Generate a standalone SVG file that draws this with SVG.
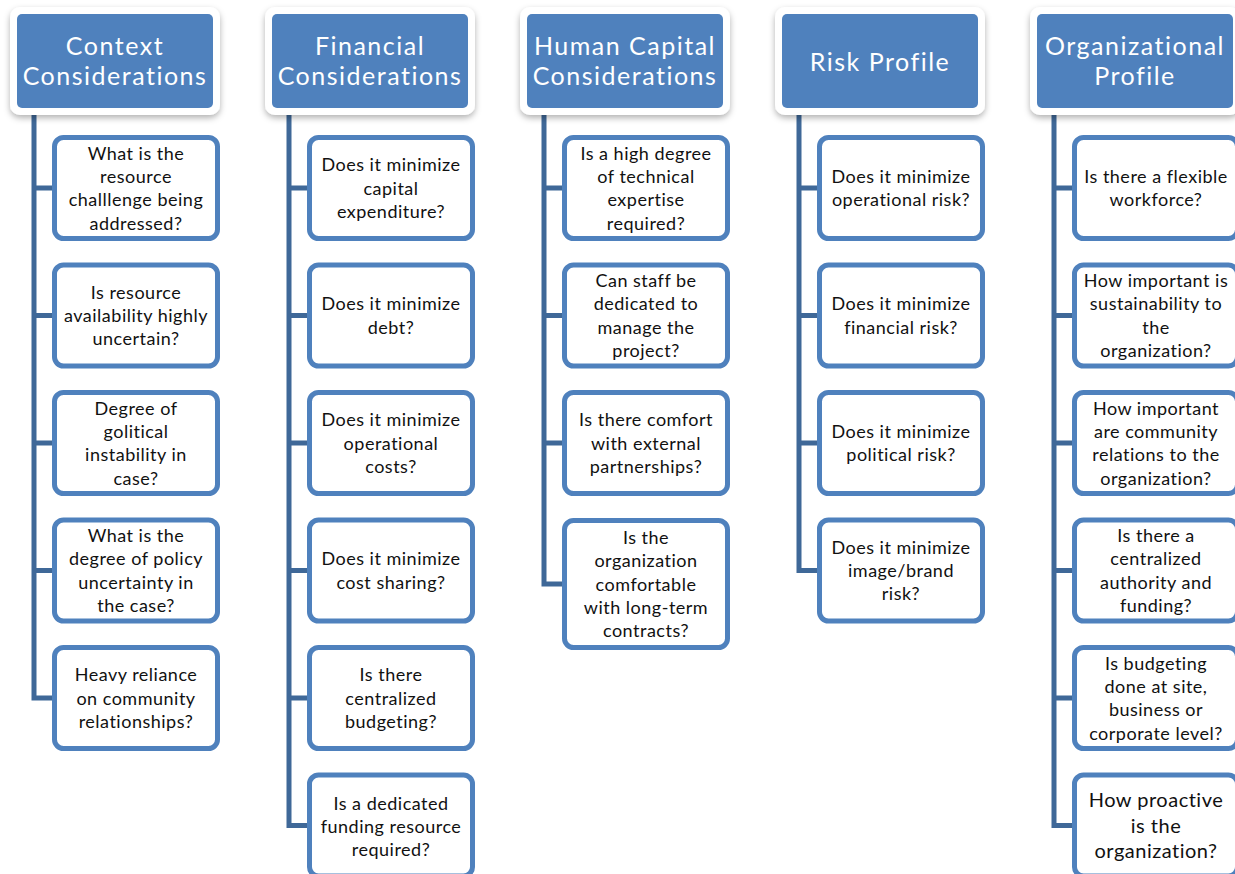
<svg xmlns="http://www.w3.org/2000/svg" width="1235" height="874" viewBox="0 0 1235 874">
<defs>
<filter id="sh" x="-10%" y="-10%" width="120%" height="130%">
<feDropShadow dx="0" dy="3" stdDeviation="3" flood-color="#000" flood-opacity="0.3"/>
</filter>
<style>
.hw{fill:#ffffff;filter:url(#sh);}
.hb{fill:#4F81BD;}
.ht{font-family:Lato,"Liberation Sans",sans-serif;font-size:25px;fill:#ffffff;text-anchor:middle;letter-spacing:1.5px;}
.cb{fill:#ffffff;stroke:#4F81BD;stroke-width:5;}
.ct{font-family:Lato,"Liberation Sans",sans-serif;font-size:18px;fill:#111111;text-anchor:middle;letter-spacing:0.5px;}
.big{font-size:20px;}
.cn{fill:none;stroke:#3F6898;stroke-width:5;}
</style>
</defs>
<rect width="1235" height="874" fill="#ffffff"/>

<g id="connectors">
<path class="cn" d="M34 108V700.5M34 188H55M34 315.5H55M34 443H55M34 570.5H55M34 698H55"/>
<path class="cn" d="M289 108V828M289 188H310M289 315.5H310M289 443H310M289 570.5H310M289 698H310M289 825.5H310"/>
<path class="cn" d="M544 108V586.5M544 188H565M544 315.5H565M544 443H565M544 584H565"/>
<path class="cn" d="M799 108V573M799 188H820M799 315.5H820M799 443H820M799 570.5H820"/>
<path class="cn" d="M1054 108V828M1054 188H1075M1054 315.5H1075M1054 443H1075M1054 570.5H1075M1054 698H1075M1054 825.5H1075"/>
</g>

<g id="h1"><rect class="hw" x="10" y="7" width="210" height="108" rx="10"/><rect class="hb" x="17" y="14" width="196" height="94" rx="5"/>
<text class="ht" x="115" y="55">Context</text><text class="ht" x="115" y="85">Considerations</text></g>
<g id="h2"><rect class="hw" x="265" y="7" width="210" height="108" rx="10"/><rect class="hb" x="272" y="14" width="196" height="94" rx="5"/>
<text class="ht" x="370" y="55">Financial</text><text class="ht" x="370" y="85">Considerations</text></g>
<g id="h3"><rect class="hw" x="520" y="7" width="210" height="108" rx="10"/><rect class="hb" x="527" y="14" width="196" height="94" rx="5"/>
<text class="ht" x="625" y="55">Human Capital</text><text class="ht" x="625" y="85">Considerations</text></g>
<g id="h4"><rect class="hw" x="775" y="7" width="210" height="108" rx="10"/><rect class="hb" x="782" y="14" width="196" height="94" rx="5"/>
<text class="ht" x="880" y="70.5">Risk Profile</text></g>
<g id="h5"><rect class="hw" x="1030" y="7" width="210" height="108" rx="10"/><rect class="hb" x="1037" y="14" width="196" height="94" rx="5"/>
<text class="ht" x="1135" y="55">Organizational</text><text class="ht" x="1135" y="85">Profile</text></g>

<g id="c1-1"><rect class="cb" x="54.5" y="137.5" width="163" height="101" rx="9"/>
<text class="ct" x="136" y="159.5">What is the</text><text class="ct" x="136" y="182.8">resource</text><text class="ct" x="136" y="206.2">challlenge being</text><text class="ct" x="136" y="229.5">addressed?</text></g>
<g id="c1-2"><rect class="cb" x="54.5" y="265" width="163" height="101" rx="9"/>
<text class="ct" x="136" y="298.7">Is resource</text><text class="ct" x="136" y="322">availability highly</text><text class="ct" x="136" y="345.3">uncertain?</text></g>
<g id="c1-3"><rect class="cb" x="54.5" y="392.5" width="163" height="101" rx="9"/>
<text class="ct" x="136" y="414.5">Degree of</text><text class="ct" x="136" y="437.8">golitical</text><text class="ct" x="136" y="461.2">instability in</text><text class="ct" x="136" y="484.5">case?</text></g>
<g id="c1-4"><rect class="cb" x="54.5" y="520" width="163" height="101" rx="9"/>
<text class="ct" x="136" y="542">What is the</text><text class="ct" x="136" y="565.3">degree of policy</text><text class="ct" x="136" y="588.7">uncertainty in</text><text class="ct" x="136" y="612">the case?</text></g>
<g id="c1-5"><rect class="cb" x="54.5" y="647.5" width="163" height="101" rx="9"/>
<text class="ct" x="136" y="681.2">Heavy reliance</text><text class="ct" x="136" y="704.5">on community</text><text class="ct" x="136" y="727.8">relationships?</text></g>

<g id="c2-1"><rect class="cb" x="309.5" y="137.5" width="163" height="101" rx="9"/>
<text class="ct" x="391" y="171.2">Does it minimize</text><text class="ct" x="391" y="194.5">capital</text><text class="ct" x="391" y="217.8">expenditure?</text></g>
<g id="c2-2"><rect class="cb" x="309.5" y="265" width="163" height="101" rx="9"/>
<text class="ct" x="391" y="310.4">Does it minimize</text><text class="ct" x="391" y="333.7">debt?</text></g>
<g id="c2-3"><rect class="cb" x="309.5" y="392.5" width="163" height="101" rx="9"/>
<text class="ct" x="391" y="426.2">Does it minimize</text><text class="ct" x="391" y="449.5">operational</text><text class="ct" x="391" y="472.8">costs?</text></g>
<g id="c2-4"><rect class="cb" x="309.5" y="520" width="163" height="101" rx="9"/>
<text class="ct" x="391" y="565.4">Does it minimize</text><text class="ct" x="391" y="588.7">cost sharing?</text></g>
<g id="c2-5"><rect class="cb" x="309.5" y="647.5" width="163" height="101" rx="9"/>
<text class="ct" x="391" y="681.2">Is there</text><text class="ct" x="391" y="704.5">centralized</text><text class="ct" x="391" y="727.8">budgeting?</text></g>
<g id="c2-6"><rect class="cb" x="309.5" y="775" width="163" height="101" rx="9"/>
<text class="ct" x="391" y="809.5">Is a dedicated</text><text class="ct" x="391" y="832.8">funding resource</text><text class="ct" x="391" y="856">required?</text></g>

<g id="c3-1"><rect class="cb" x="564.5" y="137.5" width="163" height="101" rx="9"/>
<text class="ct" x="646" y="159.5">Is a high degree</text><text class="ct" x="646" y="182.8">of technical</text><text class="ct" x="646" y="206.2">expertise</text><text class="ct" x="646" y="229.5">required?</text></g>
<g id="c3-2"><rect class="cb" x="564.5" y="265" width="163" height="101" rx="9"/>
<text class="ct" x="646" y="287">Can staff be</text><text class="ct" x="646" y="310.3">dedicated to</text><text class="ct" x="646" y="333.7">manage the</text><text class="ct" x="646" y="357">project?</text></g>
<g id="c3-3"><rect class="cb" x="564.5" y="392.5" width="163" height="101" rx="9"/>
<text class="ct" x="646" y="426.2">Is there comfort</text><text class="ct" x="646" y="449.5">with external</text><text class="ct" x="646" y="472.8">partnerships?</text></g>
<g id="c3-4"><rect class="cb" x="564.5" y="520.5" width="163" height="127" rx="9"/>
<text class="ct" x="646" y="543.9">Is the</text><text class="ct" x="646" y="567.2">organization</text><text class="ct" x="646" y="590.5">comfortable</text><text class="ct" x="646" y="613.8">with long-term</text><text class="ct" x="646" y="637.1">contracts?</text></g>

<g id="c4-1"><rect class="cb" x="819.5" y="137.5" width="163" height="101" rx="9"/>
<text class="ct" x="901" y="182.9">Does it minimize</text><text class="ct" x="901" y="206.2">operational risk?</text></g>
<g id="c4-2"><rect class="cb" x="819.5" y="265" width="163" height="101" rx="9"/>
<text class="ct" x="901" y="310.4">Does it minimize</text><text class="ct" x="901" y="333.7">financial risk?</text></g>
<g id="c4-3"><rect class="cb" x="819.5" y="392.5" width="163" height="101" rx="9"/>
<text class="ct" x="901" y="437.9">Does it minimize</text><text class="ct" x="901" y="461.2">political risk?</text></g>
<g id="c4-4"><rect class="cb" x="819.5" y="520" width="163" height="101" rx="9"/>
<text class="ct" x="901" y="553.7">Does it minimize</text><text class="ct" x="901" y="577">image/brand</text><text class="ct" x="901" y="600.3">risk?</text></g>

<g id="c5-1"><rect class="cb" x="1074.5" y="137.5" width="163" height="101" rx="9"/>
<text class="ct" x="1156" y="182.9">Is there a flexible</text><text class="ct" x="1156" y="206.2">workforce?</text></g>
<g id="c5-2"><rect class="cb" x="1074.5" y="265" width="163" height="101" rx="9"/>
<text class="ct" x="1156" y="287">How important is</text><text class="ct" x="1156" y="310.3">sustainability to</text><text class="ct" x="1156" y="333.7">the</text><text class="ct" x="1156" y="357">organization?</text></g>
<g id="c5-3"><rect class="cb" x="1074.5" y="392.5" width="163" height="101" rx="9"/>
<text class="ct" x="1156" y="414.5">How important</text><text class="ct" x="1156" y="437.8">are community</text><text class="ct" x="1156" y="461.2">relations to the</text><text class="ct" x="1156" y="484.5">organization?</text></g>
<g id="c5-4"><rect class="cb" x="1074.5" y="520" width="163" height="101" rx="9"/>
<text class="ct" x="1156" y="542">Is there a</text><text class="ct" x="1156" y="565.3">centralized</text><text class="ct" x="1156" y="588.7">authority and</text><text class="ct" x="1156" y="612">funding?</text></g>
<g id="c5-5"><rect class="cb" x="1074.5" y="647.5" width="163" height="101" rx="9"/>
<text class="ct" x="1156" y="669.5">Is budgeting</text><text class="ct" x="1156" y="692.8">done at site,</text><text class="ct" x="1156" y="716.2">business or</text><text class="ct" x="1156" y="739.5">corporate level?</text></g>
<g id="c5-6"><rect class="cb" x="1074.5" y="775" width="163" height="101" rx="9"/>
<text class="ct big" x="1156" y="807">How proactive</text><text class="ct big" x="1156" y="832.5">is the</text><text class="ct big" x="1156" y="858">organization?</text></g>
</svg>
